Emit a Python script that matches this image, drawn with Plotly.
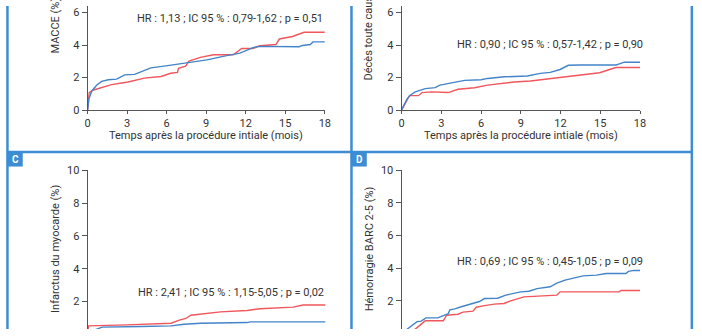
import plotly.graph_objects as go

W, H = 702, 336

# Time axis (months) and cumulative incidence (%) for each endpoint
macce_blue_t = [0, 0.1, 0.32, 0.7, 1.07, 1.57, 2.2, 2.82, 3.57, 4.2, 4.8, 6.07, 7.06, 7.8, 9.06, 10.56, 11.56, 12.55, 13.06, 16.05, 16.3, 16.9, 17.1, 18]
macce_blue_v = [0, 0.7, 1.18, 1.55, 1.77, 1.87, 1.91, 2.17, 2.2, 2.4, 2.6, 2.74, 2.86, 2.96, 3.09, 3.35, 3.51, 3.85, 3.92, 3.9, 3.98, 4.04, 4.2, 4.2]
macce_red_t = [0, 0.05, 0.12, 0.45, 1.07, 1.82, 3.07, 4.31, 5.57, 6.31, 6.82, 6.9, 7.44, 7.69, 8.56, 9.56, 11.06, 11.69, 12.55, 13.06, 14.3, 14.55, 15.55, 16.18, 16.43, 18]
macce_red_v = [0, 0.7, 1.08, 1.24, 1.38, 1.57, 1.73, 1.97, 2.07, 2.27, 2.32, 2.57, 2.7, 3.02, 3.25, 3.41, 3.41, 3.79, 3.79, 3.96, 4.04, 4.38, 4.53, 4.69, 4.79, 4.79]

deces_blue_t = [0, 0.42, 0.67, 1.04, 1.79, 2.53, 2.9, 3.53, 4.77, 6.0, 6.5, 7.75, 9.49, 10.48, 11.22, 11.97, 12.59, 13.46, 16.19, 16.44, 16.81, 18]
deces_blue_v = [0, 0.69, 0.93, 1.12, 1.32, 1.38, 1.54, 1.63, 1.83, 1.87, 1.95, 2.05, 2.1, 2.26, 2.32, 2.5, 2.76, 2.78, 2.78, 2.85, 2.95, 2.95]
deces_red_t = [0, 0.6, 1.29, 1.54, 2.28, 3.28, 3.53, 4.27, 5.51, 6.5, 7.75, 8.49, 9.73, 10.98, 12.22, 13.46, 14.95, 15.94, 16.19, 18]
deces_red_v = [0, 0.89, 0.89, 1.08, 1.12, 1.12, 1.08, 1.28, 1.38, 1.54, 1.67, 1.73, 1.79, 1.91, 2.07, 2.15, 2.3, 2.56, 2.62, 2.62]

im_blue_t = [0, 0.2, 0.5, 0.85, 1.1, 4.07, 6.32, 7.3, 8.56, 12.06, 12.3, 18]
im_blue_v = [0, 0.15, 0.25, 0.38, 0.43, 0.47, 0.51, 0.61, 0.67, 0.71, 0.75, 0.75]
im_red_t = [0, 0.07, 2.95, 4.07, 6.32, 6.94, 7.44, 7.81, 8.81, 10.06, 12.06, 13.05, 15.55, 16.3, 18]
im_red_v = [0, 0.51, 0.57, 0.61, 0.67, 0.86, 0.96, 1.16, 1.26, 1.36, 1.45, 1.55, 1.65, 1.78, 1.78]

hem_blue_t = [0, 0.42, 0.79, 1.17, 1.49, 1.84, 2.73, 3.28, 3.53, 3.65, 4.02, 4.64, 5.26, 5.88, 6.26, 7.25, 7.87, 8.99, 9.61, 10.23, 11.22, 11.72, 12.34, 12.96, 13.7, 14.7, 15.44, 16.93, 17.13, 17.55, 18]
hem_blue_v = [0, 0.27, 0.47, 0.73, 0.76, 0.96, 0.96, 1.12, 1.22, 1.45, 1.51, 1.67, 1.8, 1.96, 2.14, 2.16, 2.35, 2.55, 2.59, 2.75, 2.86, 3.08, 3.27, 3.41, 3.53, 3.57, 3.67, 3.67, 3.8, 3.86, 3.86]
hem_red_t = [0, 0.5, 1.04, 1.42, 1.79, 3.15, 3.4, 4.27, 4.64, 5.39, 5.64, 6.26, 7.0, 7.75, 8.24, 9.24, 10.48, 11.72, 11.97, 16.43, 16.56, 18]
hem_red_v = [0, 0.12, 0.27, 0.53, 0.78, 0.78, 1.12, 1.18, 1.31, 1.37, 1.61, 1.71, 1.8, 1.84, 2.0, 2.24, 2.29, 2.35, 2.55, 2.55, 2.63, 2.63]

x_ticks = [0, 3, 6, 9, 12, 15, 18]
y_ticks = [0, 2, 4, 6, 8, 10]

y_titles = ["MACCE (%)", "Décès toute cause (%)", "Infarctus du myocarde (%)", "Hémorragie BARC 2-5 (%)"]
x_title = "Temps après la procédure intiale (mois)"
hr_texts = [
    "HR : 1,13 ; IC 95 % : 0,79-1,62 ; p = 0,51",
    "HR : 0,90 ; IC 95 % : 0,57-1,42 ; p = 0,90",
    "HR : 2,41 ; IC 95 % : 1,15-5,05 ; p = 0,02",
    "HR : 0,69 ; IC 95 % : 0,45-1,05 ; p = 0,09",
]
panel_letters = ["C", "D"]

BLUE = "#4384c9"
RED = "#f0565b"
FRAME = "#3c8dd3"
INK = "#333333"
FONT = "Roboto"


def fx(px):
    return px / W


def fy(py):
    return 1 - py / H


# plot-area geometry (pixels): x0, x1, y of value 0, pixels per unit
panels = [
    dict(x0=85.7, x1=326.0, y0=108.3, ppu=16.9, top=True),
    dict(x0=403.7, x1=645.3, y0=108.3, ppu=16.9, top=True),
    dict(x0=85.7, x1=326.7, y0=341.4, ppu=17.04, top=False),
    dict(x0=403.7, x1=645.3, y0=340.7, ppu=17.0, top=False),
]

series = [
    (macce_blue_t, macce_blue_v, macce_red_t, macce_red_v),
    (deces_blue_t, deces_blue_v, deces_red_t, deces_red_v),
    (im_blue_t, im_blue_v, im_red_t, im_red_v),
    (hem_blue_t, hem_blue_v, hem_red_t, hem_red_v),
]

# hazard-ratio text placement: right edge and vertical centre, in pixels
hr_pos = [(326.5, 13.3), (650.0, 40.0), (326.7, 297.7), (650.0, 266.0)]

fig = go.Figure()
layout = dict(
    width=W, height=H, margin=dict(l=0, r=0, t=0, b=0),
    paper_bgcolor="white", plot_bgcolor="white", showlegend=False,
    font=dict(family=FONT, color=INK, size=11),
)
annotations = []
shapes = []

for i, (p, (bt, bv, rt, rv)) in enumerate(zip(panels, series)):
    n = "" if i == 0 else str(i + 1)
    xa, ya = "x" + n, "y" + n
    fig.add_trace(go.Scatter(x=rt, y=rv, mode="lines", line=dict(color=RED, width=1.4), xaxis=xa, yaxis=ya))
    fig.add_trace(go.Scatter(x=bt, y=bv, mode="lines", line=dict(color=BLUE, width=1.4), xaxis=xa, yaxis=ya))

    if p["top"]:
        ybot_px, ytop_px = p["y0"], 0.0
    else:
        ybot_px, ytop_px = float(H), p["y0"] - 10 * p["ppu"]
    rng_lo = (p["y0"] - ybot_px) / p["ppu"]
    rng_hi = (p["y0"] - ytop_px) / p["ppu"]

    layout["xaxis" + n] = dict(
        domain=[fx(p["x0"]), fx(p["x1"])], range=[0, 18], anchor=ya,
        tickvals=x_ticks, showgrid=False, zeroline=False,
        showline=p["top"], linecolor="#555", linewidth=1,
        ticks="outside" if p["top"] else "", ticklen=3, tickcolor="#555",
        showticklabels=p["top"], tickfont=dict(size=11, color=INK, family=FONT),
    )
    layout["yaxis" + n] = dict(
        domain=[fy(ybot_px), fy(ytop_px)], range=[rng_lo, rng_hi], anchor=xa,
        tickvals=y_ticks, showgrid=False, zeroline=False,
        showline=True, linecolor="#555", linewidth=1,
        ticks="outside", ticklen=5, tickcolor="#555",
        tickfont=dict(size=11, color=INK, family=FONT),
    )

    # y-axis title, centred on the full 0-10 axis
    mid_px = p["y0"] - 5 * p["ppu"]
    annotations.append(dict(
        xref="paper", yref="paper", x=fx(p["x0"] - 32.5), y=fy(mid_px - 3),
        text=y_titles[i], textangle=-90, showarrow=False,
        xanchor="center", yanchor="middle", font=dict(size=11, color=INK, family=FONT),
    ))
    if p["top"]:
        annotations.append(dict(
            xref="paper", yref="paper", x=fx((p["x0"] + p["x1"]) / 2), y=fy(134.5),
            text=x_title, showarrow=False, xanchor="center", yanchor="middle",
            font=dict(size=11, color=INK, family=FONT),
        ))
    hx, hy = hr_pos[i]
    annotations.append(dict(
        xref="paper", yref="paper", x=fx(hx), y=fy(hy), text=hr_texts[i], showarrow=False,
        xanchor="right", yanchor="middle", font=dict(size=11, color=INK, family=FONT),
    ))

# panel frames
line = dict(color=FRAME, width=2.5)
for xv in (4.5, 353.0, 697.8):
    shapes.append(dict(type="line", xref="paper", yref="paper", x0=fx(xv), x1=fx(xv), y0=0, y1=1, line=line))
shapes.append(dict(type="line", xref="paper", yref="paper", x0=fx(4.5), x1=fx(697.8), y0=fy(152), y1=fy(152), line=line))

# panel letter badges
for letter, bx in zip(panel_letters, (4.5, 353.0)):
    shapes.append(dict(type="rect", xref="paper", yref="paper", x0=fx(bx), x1=fx(bx + 15.5),
                       y0=fy(167), y1=fy(152), fillcolor=FRAME, line=dict(width=0)))
    annotations.append(dict(xref="paper", yref="paper", x=fx(bx + 8), y=fy(160), text="<b>%s</b>" % letter,
                            showarrow=False, xanchor="center", yanchor="middle",
                            font=dict(size=10, color="white", family=FONT)))

layout["annotations"] = annotations
layout["shapes"] = shapes
fig.update_layout(**layout)
fig.write_html("out.html")
